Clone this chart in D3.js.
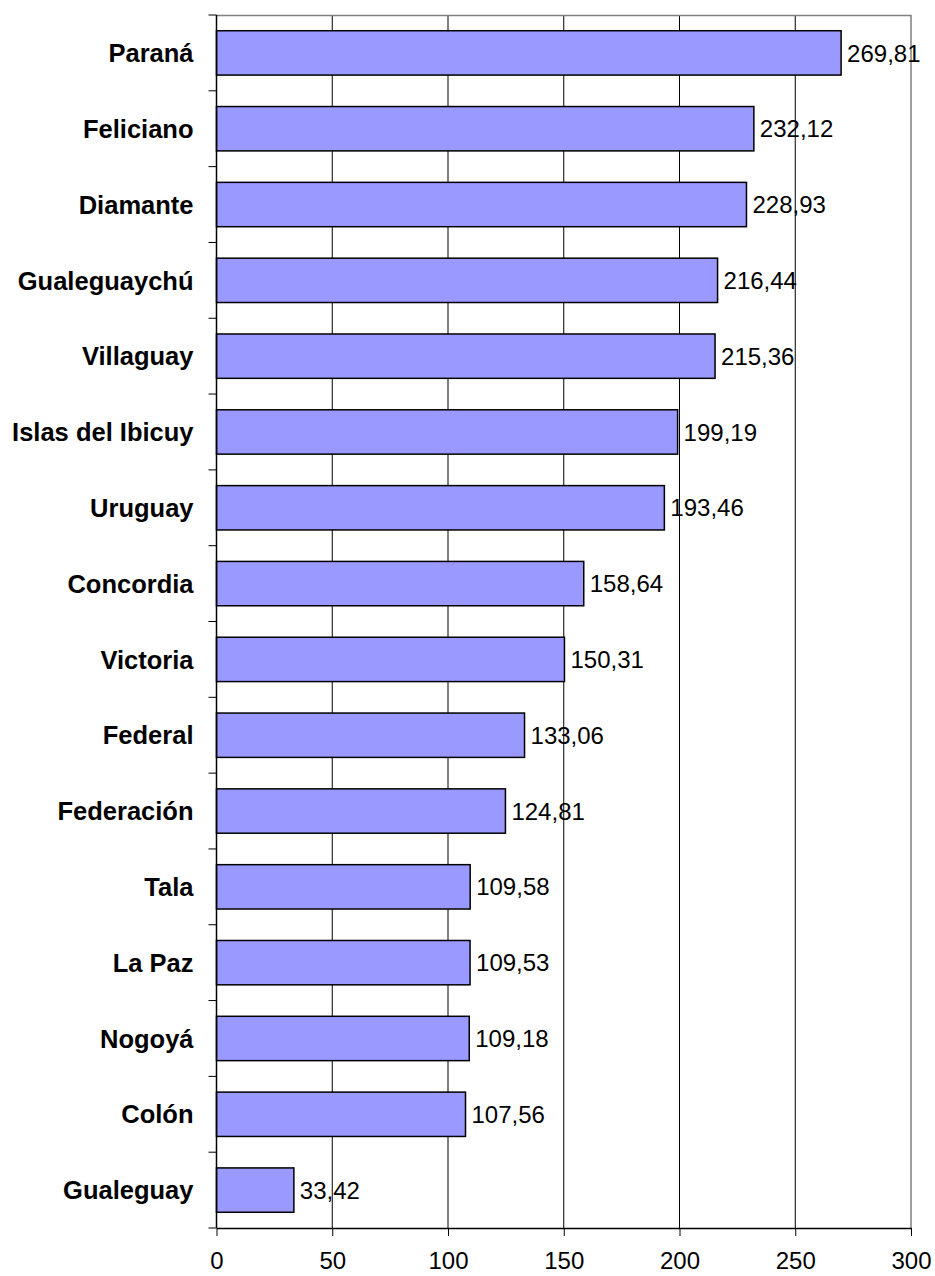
<!DOCTYPE html>
<html>
<head>
<meta charset="utf-8">
<script src="https://cdn.jsdelivr.net/npm/d3@7"></script>
<style>
  body { margin: 0; background: #fff; }
  svg { display: block; font-family: "Liberation Sans", Arial, sans-serif; }
</style>
</head>
<body>
<svg id="chart" width="935" height="1276"></svg>
<script>
const departments = ["Paraná", "Feliciano", "Diamante", "Gualeguaychú", "Villaguay",
  "Islas del Ibicuy", "Uruguay", "Concordia", "Victoria", "Federal", "Federación",
  "Tala", "La Paz", "Nogoyá", "Colón", "Gualeguay"];
const values = [269.81, 232.12, 228.93, 216.44, 215.36, 199.19, 193.46, 158.64,
  150.31, 133.06, 124.81, 109.58, 109.53, 109.18, 107.56, 33.42];
const xTicks = [0, 50, 100, 150, 200, 250, 300];

const margin = { top: 15, right: 24, bottom: 48, left: 216.5 };
const width = 935 - margin.left - margin.right;
const height = 1276 - margin.top - margin.bottom;

const svg = d3.select("#chart");
const g = svg.append("g").attr("transform", `translate(${margin.left},${margin.top})`);

const x = d3.scaleLinear().domain([0, 300]).range([0, width]);
const y = d3.scaleBand().domain(departments).range([0, height]).paddingInner(0.415).paddingOuter(0.2075);

// gridlines
g.selectAll(".grid")
  .data(xTicks.slice(1, -1))
  .enter()
  .append("line")
  .attr("x1", (d) => x(d))
  .attr("x2", (d) => x(d))
  .attr("y1", 0)
  .attr("y2", height)
  .attr("stroke", "#000")
  .attr("stroke-width", 1);

// top and right border
g.append("path")
  .attr("d", `M0,0.5H${width}V${height}`)
  .attr("fill", "none")
  .attr("stroke", "#808080")
  .attr("stroke-width", 1.5);

// bars
g.selectAll(".bar")
  .data(values)
  .enter()
  .append("rect")
  .attr("x", 0)
  .attr("y", (d, i) => y(departments[i]))
  .attr("width", (d) => x(d))
  .attr("height", y.bandwidth())
  .attr("fill", "#9999ff")
  .attr("stroke", "#000")
  .attr("stroke-width", 1.5);

// value labels
g.selectAll(".val")
  .data(values)
  .enter()
  .append("text")
  .attr("x", (d) => x(d) + 6)
  .attr("y", (d, i) => y(departments[i]) + y.bandwidth() / 2)
  .attr("dy", "0.36em")
  .attr("font-size", 24)
  .text((d) => d.toFixed(2).replace(".", ","));

// y axis: ticks at band boundaries
const step = height / departments.length;
const yAxis = g.append("g");
yAxis.append("line")
  .attr("x1", 0).attr("x2", 0).attr("y1", 0).attr("y2", height)
  .attr("stroke", "#000").attr("stroke-width", 1.5);
yAxis.selectAll(".ytick")
  .data(d3.range(departments.length + 1))
  .enter()
  .append("line")
  .attr("x1", -8).attr("x2", 0)
  .attr("y1", (d) => d * step)
  .attr("y2", (d) => d * step)
  .attr("stroke", "#000");
yAxis.selectAll(".ylab")
  .data(departments)
  .enter()
  .append("text")
  .attr("x", -23)
  .attr("y", (d) => y(d) + y.bandwidth() / 2)
  .attr("dy", "0.36em")
  .attr("text-anchor", "end")
  .attr("font-size", 25.5)
  .attr("font-weight", "bold")
  .text((d) => d);

// x axis
const xAxis = g.append("g")
  .attr("transform", `translate(0,${height})`)
  .call(d3.axisBottom(x).tickValues(xTicks).tickSize(8).tickPadding(16).tickSizeOuter(0));
xAxis.select(".domain").attr("stroke", "#000").attr("stroke-width", 1.5);
xAxis.selectAll(".tick line").attr("stroke", "#000");
xAxis.selectAll("text")
  .attr("font-size", 24)
  .attr("font-family", "'Liberation Sans', Arial, sans-serif")
  .attr("fill", "#000");
</script>
</body>
</html>
